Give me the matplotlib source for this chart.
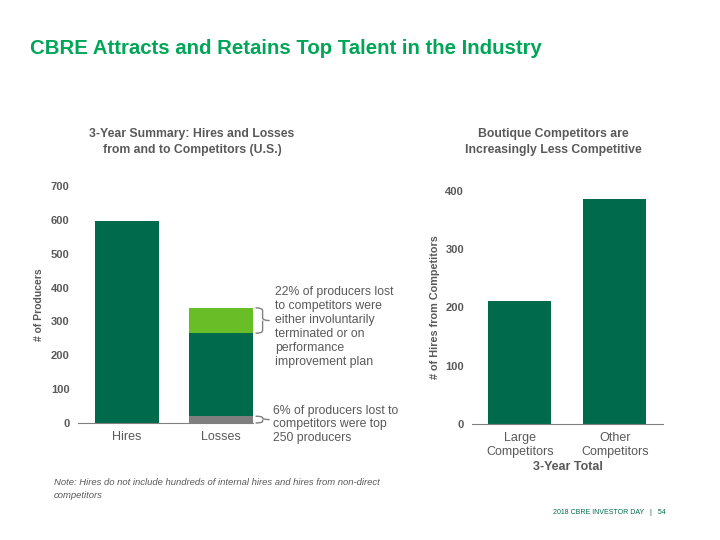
import matplotlib.pyplot as plt
from matplotlib.path import Path
from matplotlib.patches import PathPatch

# data
left_cats = ["Hires", "Losses"]
hires = [597, 0]
loss_top250 = [0, 20]
loss_other = [0, 245]
loss_terminated = [0, 75]

right_cats = ["Large\nCompetitors", "Other\nCompetitors"]
right_vals = [211, 386]

dark = "#006A4D"
light = "#69BE28"
grey_bar = "#7F7F7F"
txt = "#595959"
plt.rcParams['font.family'] = ["Liberation Sans", "DejaVu Sans"]

fig = plt.figure(figsize=(7.2, 5.4), dpi=100)


def brace(ax, x0, w, y0, y1):
    # vertical curly brace opening left, tip pointing right
    xm = x0 + w / 2
    ym = (y0 + y1) / 2
    r = min((y1 - y0) * 0.25, 8)
    verts = [(x0, y1), (xm, y1), (xm, y1 - r),
             (xm, ym + r), (xm, ym), (x0 + w, ym),
             (xm, ym), (xm, ym - r),
             (xm, y0 + r), (xm, y0), (x0, y0)]
    codes = [Path.MOVETO, Path.CURVE3, Path.CURVE3,
             Path.LINETO, Path.CURVE3, Path.CURVE3,
             Path.MOVETO, Path.LINETO,
             Path.LINETO, Path.CURVE3, Path.CURVE3]
    ax.add_patch(PathPatch(Path(verts, codes), fill=False, ec="#808080",
                           lw=1.0, clip_on=False))


def style(ax):
    for s in ["top", "right", "left"]:
        ax.spines[s].set_visible(False)
    ax.spines["bottom"].set_color("#808080")
    ax.tick_params(axis="y", length=0, labelsize=8, labelcolor=txt, pad=6)
    ax.tick_params(axis="x", length=0, labelsize=9, labelcolor=txt, pad=6)
    for lab in ax.get_yticklabels():
        lab.set_fontweight("bold")


# left chart
ax1 = fig.add_axes([0.108, 0.2167, 0.243, 0.4389])
ax1.bar(left_cats, hires, width=0.677, color=dark)
ax1.bar(left_cats, loss_top250, width=0.677, color=grey_bar)
b2 = [a for a in loss_top250]
ax1.bar(left_cats, loss_other, width=0.677, bottom=b2, color=dark)
b3 = [a + b for a, b in zip(loss_top250, loss_other)]
ax1.bar(left_cats, loss_terminated, width=0.677, bottom=b3, color=light)
ax1.set_xlim(-0.52, 1.34)
ax1.set_ylim(0, 700)
ax1.set_yticks(range(0, 701, 100))
style(ax1)
ax1.set_ylabel("# of Producers", fontsize=7.5, fontweight="bold", color=txt,
               labelpad=5)

# braces and notes
top = b3[1] + loss_terminated[1]
brace(ax1, 1.37, 0.15, b3[1], top)
brace(ax1, 1.37, 0.15, 0, loss_top250[1])
ax1.text(1.58, 405, "22% of producers lost\nto competitors were\neither involuntarily\n"
         "terminated or on\nperformance\nimprovement plan",
         fontsize=8.8, color=txt, va="top", ha="left", linespacing=1.22,
         clip_on=False)
ax1.text(1.56, 54, "6% of producers lost to\ncompetitors were top\n250 producers",
         fontsize=8.8, color=txt, va="top", ha="left", linespacing=1.2,
         clip_on=False)

# right chart
ax2 = fig.add_axes([0.656, 0.2148, 0.265, 0.4321])
ax2.bar(right_cats, right_vals, width=0.663, color=dark)
ax2.set_xlim(-0.5, 1.51)
ax2.set_ylim(0, 400)
ax2.set_yticks(range(0, 401, 100))
style(ax2)
ax2.set_ylabel("# of Hires from Competitors", fontsize=7.8, fontweight="bold",
               color=txt, labelpad=4)
ax2.set_xlabel("3-Year Total", fontsize=9, fontweight="bold", color=txt,
               labelpad=2)

# titles
fig.text(30 / 720, 1 - 49 / 540, "CBRE Attracts and Retains Top Talent in the Industry",
         fontsize=14.7, fontweight="bold", color="#00A657",
         va="center", ha="left")
fig.text(192 / 720, 1 - 142 / 540, "3-Year Summary: Hires and Losses\nfrom and to Competitors (U.S.)",
         fontsize=8.8, fontweight="bold", color=txt,
         ha="center", va="center", linespacing=1.4)
fig.text(553 / 720, 1 - 142 / 540, "Boutique Competitors are\nIncreasingly Less Competitive",
         fontsize=8.8, fontweight="bold", color=txt,
         ha="center", va="center", linespacing=1.4)

fig.text(54 / 720, 1 - 489 / 540,
         "Note: Hires do not include hundreds of internal hires and hires from non-direct\ncompetitors",
         fontsize=6.8, style="italic", color=txt, ha="left", va="center", linespacing=1.45)
fig.text(666 / 720, 1 - 512 / 540, "2018 CBRE INVESTOR DAY   |   54",
         fontsize=5, color=dark, ha="right", va="center")

plt.savefig("out.png", dpi=100)
